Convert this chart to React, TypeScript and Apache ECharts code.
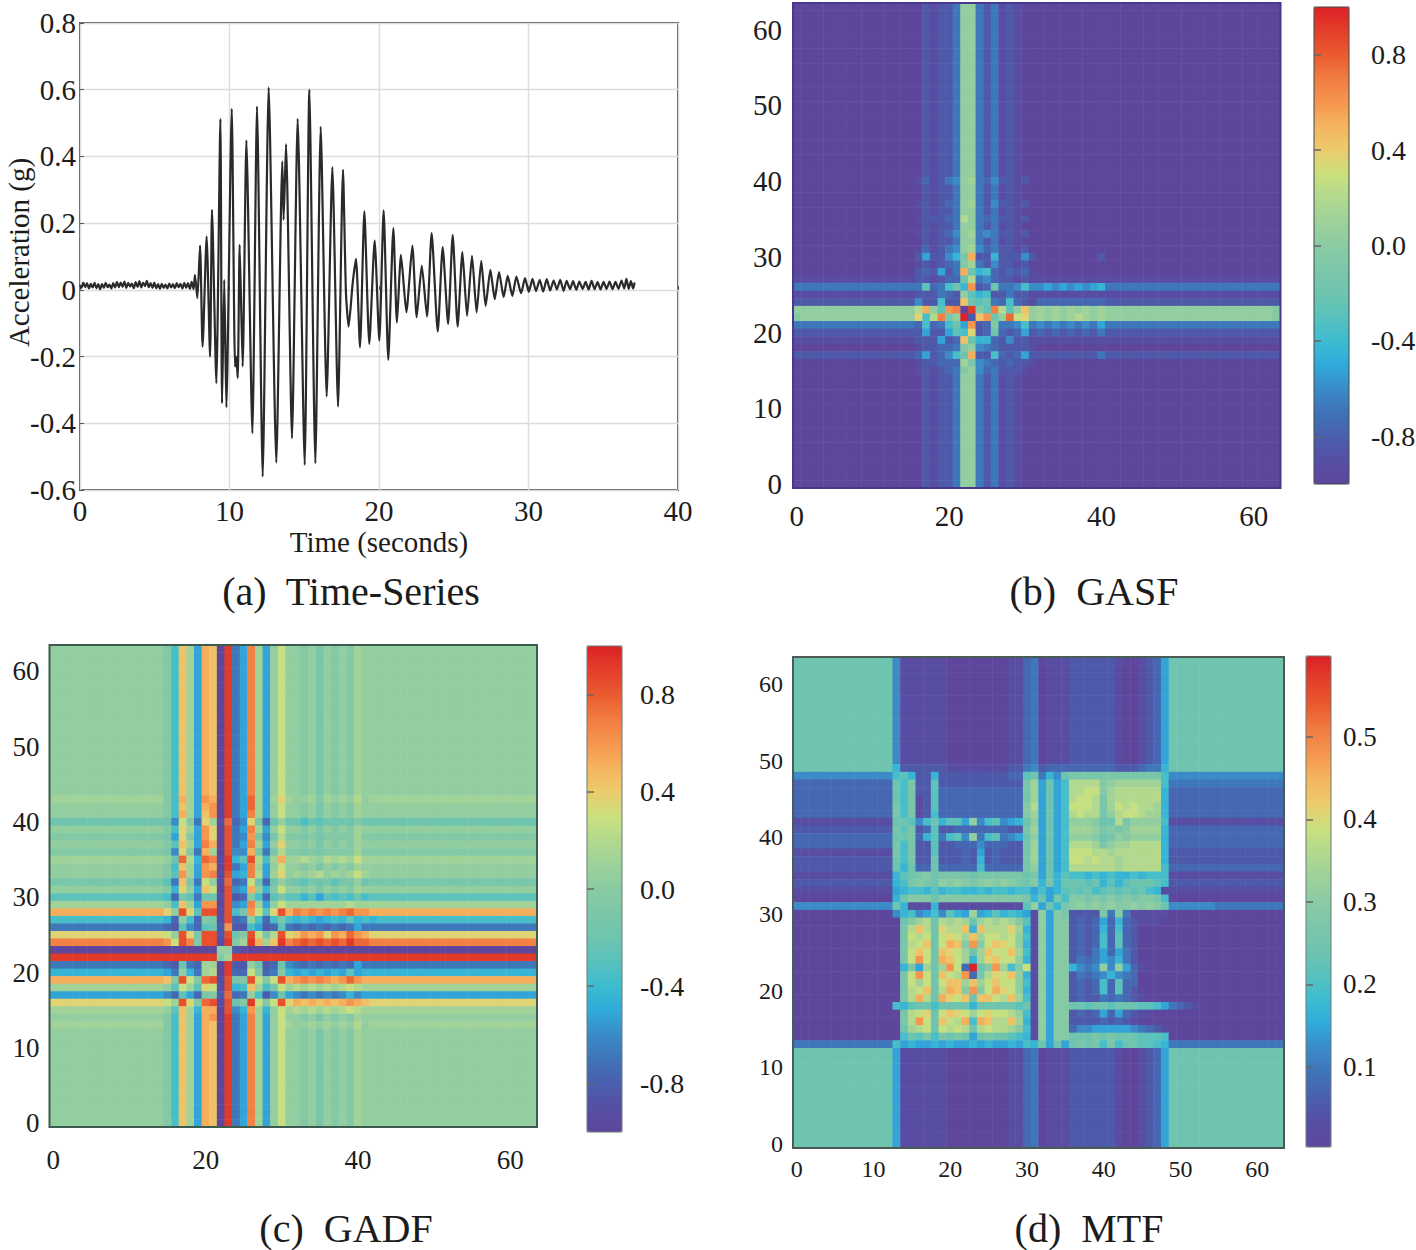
import React, { useEffect, useRef } from "react";
import * as echarts from "echarts";

const SERIF = '"Liberation Serif", "Times New Roman", serif';
const INK = "#1c1c1c";

// ---------- (a) time series as [seconds, g] ----------
const quietBefore: number[][] = [
  [0, 0.014], [0.1, 0.006], [0.22, 0.022], [0.35, 0.008], [0.47, 0.02], [0.6, 0.004], [0.72, 0.018], [0.85, 0.007], [0.97, 0.021], [1.1, 0.005],
  [1.22, 0.017], [1.35, 0.002], [1.47, 0.018], [1.6, 0.006], [1.72, 0.021], [1.85, 0.008], [1.97, 0.016], [2.1, 0.004], [2.22, 0.02], [2.35, 0.007],
  [2.47, 0.024], [2.6, 0.008], [2.72, 0.022], [2.85, 0.009], [2.97, 0.025], [3.1, 0.006], [3.22, 0.021], [3.35, 0.01], [3.47, 0.019], [3.6, 0.005],
  [3.72, 0.023], [3.85, 0.009], [3.97, 0.026], [4.1, 0.007], [4.22, 0.022], [4.35, 0.011], [4.47, 0.027], [4.6, 0.008], [4.72, 0.02], [4.85, 0.006],
  [4.97, 0.022], [5.1, 0.005], [5.22, 0.017], [5.35, 0.003], [5.47, 0.018], [5.6, 0.006], [5.72, 0.016], [5.85, 0.004], [5.97, 0.019], [6.1, 0.007],
  [6.22, 0.017], [6.35, 0.005], [6.47, 0.02], [6.6, 0.008], [6.72, 0.018], [6.85, 0.004], [6.97, 0.021], [7.1, 0.006], [7.22, 0.02], [7.35, 0.003],
  [7.47, 0.024], [7.6, 0.002],
];
const strongShaking: number[][] = [
  [7.69, 0.045], [7.85, -0.025], [8.03, 0.133], [8.2, -0.17], [8.47, 0.16], [8.7, -0.2], [8.83, 0.24], [9.12, -0.28], [9.39, 0.513], [9.5, -0.34],
  [9.65, 0.03], [9.79, -0.352], [10.15, 0.543], [10.37, -0.23], [10.45, -0.2], [10.55, -0.264], [10.68, 0.135], [10.88, -0.23], [11.13, 0.448], [11.53, -0.43],
  [11.84, 0.55], [12.22, -0.56], [12.62, 0.607], [13.13, -0.518], [13.53, 0.385], [13.62, 0.21], [13.78, 0.437], [14.18, -0.445], [14.56, 0.513], [15.03, -0.525],
  [15.34, 0.6], [15.74, -0.52], [16.1, 0.489], [16.5, -0.32], [16.88, 0.368], [17.26, -0.35], [17.59, 0.36],
];
const decay: number[][] = [
  [17.79, -0.01], [17.97, -0.11], [18.24, 0.02], [18.46, 0.093], [18.73, -0.172], [19.02, 0.235], [19.35, -0.162], [19.71, 0.148], [20.02, -0.152], [20.31, 0.238],
  [20.62, -0.21], [20.96, 0.185], [21.2, -0.098], [21.47, 0.105], [21.83, -0.067], [22.23, 0.133], [22.52, -0.082], [22.86, 0.073], [23.21, -0.08], [23.52, 0.17],
  [23.93, -0.125], [24.26, 0.128], [24.62, -0.102], [24.93, 0.165], [25.26, -0.11], [25.58, 0.113], [25.89, -0.078], [26.22, 0.102], [26.53, -0.068], [26.84, 0.087],
  [27.13, -0.048], [27.45, 0.06], [27.74, -0.028], [28.03, 0.053], [28.34, -0.022], [28.61, 0.042], [28.92, -0.018], [29.19, 0.04], [29.5, -0.01], [29.77, 0.035],
];
const quietAfter: number[][] = [
  [30.02, -0.006], [30.27, 0.033], [30.5, -0.004], [30.75, 0.03], [30.98, -0.005], [31.22, 0.032], [31.45, -0.002], [31.68, 0.028], [31.9, 0.001], [32.12, 0.03],
  [32.35, -0.003], [32.55, 0.027], [32.78, 0.002], [32.98, 0.026], [33.2, 0.0], [33.4, 0.025], [33.62, 0.003], [33.82, 0.024], [34.02, 0.001], [34.22, 0.027],
  [34.42, 0.002], [34.62, 0.023], [34.82, 0.001], [35.02, 0.024], [35.22, 0.003], [35.42, 0.025], [35.62, 0.002], [35.82, 0.024], [36.02, 0.003], [36.22, 0.028],
  [36.4, 0.004], [36.55, 0.033], [36.7, 0.003], [36.85, 0.026], [37.0, 0.004], [37.1, 0.022],
];

const timeTicks = { min: 0, max: 40, step: 10 };
const accelTicks = { min: -0.6, max: 0.8, step: 0.2 };
const unitCbTicks = [-0.8, -0.4, 0, 0.4, 0.8];
const mtfCbTicks = [0.1, 0.2, 0.3, 0.4, 0.5];
const cellIndex = Array.from({ length: 64 }, (_, i) => String(i));

// ---------- image rows, top row (63) first. Each letter is one colour level
// a..z, a trailing number repeats the letter. --------------------------------
const gA = "a16acbccennecebcbaa32";
const gasfRows = [
  gA, gA, gA, gA, gA, gA, gA, gA, gA, gA, gA, gA, gA, gA, gA, gA, gA, gA, gA, gA, gA, gA, gA,
  "a16bdbcefnoedfccbca32", gA, gA,
  "a16bcbcdenoecfccbca32", gA,
  "a16bcccdepnedeccbca32", gA,
  "a16bcbcdfnoefeccbca32", gA,
  "a16bdbcefnofdeccbca32",
  "a16cgccfhltcchcccfca8ca23",
  "a16bcbcdemoecfccbca32",
  "a16cdcgcetkhidcdcdba32",
  "b16ccbcddkpefdccbcbb32",
  "e16ejdeikhucdkeefiffgfgfgfghe23",
  "b16cccedcnjhicceccbb32",
  "c16fcciccskjkedidcbd9c23",
  "n16ptnjuvaymjvpjnsnononononon22m",
  "mn15ripvlnzcsuknwqrnononoponon22m",
  "e16dideikgucdmeefiefefefefege23",
  "c16cgccgjircdkdcdgcdcdcdcdcec23",
  "b16cccgcdskhhdcfccbb32",
  "a16bccddemnfedccccba32",
  "c16dgcdfiktccidcdgcc8ec23",
  "a16bccdddolfedcdccba32",
  "a16bcbcdemnfdecccbaa32",
  gA, gA, gA, gA, gA, gA, gA, gA, gA, gA, gA, gA, gA, gA, gA,
];

const softTail = "nnmnlnmnmonn";
const dV = `n15misogtsayegvognq${softTail}n21`;
const gadfRows = [
  dV, dV, dV, dV, dV, dV, dV, dV, dV, dV, dV, dV, dV, dV, dV, dV, dV, dV, dV, dV,
  "o15mitogutayegwogoronnomononpnoo21",
  `n15misogtuayegwognq${softTail}n21`,
  `n15mitogsuayegvognq${softTail}n21`,
  "k15kfqmerobwdfrldknkkikjkkkkmkkk21",
  `n15miroguraxegvognq${softTail}n21`,
  "m15lgrmguraxefulflpmmlmlmmmmommm21",
  `n15mjsogvtaxegvognr${softTail}n21`,
  "m15lfrmetoaxfftlelpmmlmlmmmmommm21",
  "o15nkwphwvbyhjxpiotooponpopoqooo21",
  `n15misogutayegvognq${softTail}n21`,
  "n15mjuoguvbxghvpgornonopnonoqonn21",
  "l15jesleqnbwdeqkdknlkjlkljllnkll21",
  `n15mhrngsqaxfgtnhmq${softTail}n21`,
  "j15idljekkbxcdmidjljjhjgjijikijj21",
  "o15nisoguuaxfgvognqoooooooopoooo21",
  "t15rnxrjxxbxiluqjrxtvuvuvuvwuutt21",
  "i15hdnidmlbxdenidilihihghihjhihi21",
  "e15dcjfdjkcuccigcdjededededegeee21",
  "r15qnxrlxxcxkmxqlpxrsuturutwutrr21",
  "v15uqxvmxxbymoytosyvwxwxwxwywwvv21",
  "a15abaaaaanncbaaaaaa12a21",
  "y15yyyyyyymoyyyyyyyy12y21",
  "e15dckedooayccnkcdkfededededgeee21",
  "h15genheopayddqmdemhghghghgjghhh21",
  "t15smxqmwxbxlmxqmqxtuvuvutuwuttt21",
  "o15njqojrqbxhisoilqopopopopqpooo21",
  "g15fdjgdlmcwdenicfkgfefefefhfggg21",
  "r15qoxrmwxbxkmyqmqxrtstststutsrr21",
  "o15njsohttaxfhuohnqopopopopqpooo21",
  `n15misogtuayegvognq${softTail}n21`,
  "o15misogtsayegvognqonnonononpnoo21",
  dV, dV, dV, dV, dV, dV, dV, dV, dV, dV, dV, dV, dV,
];

const mT = "k13fb6a8b2deab3cccc3baabcdgk15";
const mB = "k13gb6a8b2deab3cccc3baabcdgk15";
const mtfRows = [
  mT, mT, mT, mT, mT, mT, mT, mT, mT, mT, mT, mT, mT, mT,
  "k13hc6b8c2efcd3dddd3c3deehk15",
  "f13ijhcchc5c4d2jkehfkl12if15",
  "d13kilccjc11logkgip4mno6ie15",
  "d13kilccjd11logkgip2q2mop6hd15",
  "d13kilbcjd11logkgipqqplop6hd15",
  "d13lilbcjd11mpgkgiqqqploqpqppohd15",
  "d13lilbcid11mogkgipqpplnpqqpoohd15",
  "b13kkjfikhjjgnfijfghkngkgin3mkkpln4ib15",
  "c13ljlcdjccd7cclogkgio3nlmlmo4hd15",
  "d13kkldhjeijfneijefgkngkgin3mklnmn4hd15",
  "d13lilccjccd3fd3cclogkgip3olnoop4hd15",
  "b13lilccjcccdcgcdccclogkgiq3ppop6hc15",
  "c13kilcckcccdchcdccclogkgiqqpqppop5hc15",
  "c13khkddkd5id5lngkgip4ppop5id15",
  "b13hjklmkl4kl6klgkhjiihihihhihiiib15",
  "c13hilmlknmnmlmnmnmlkmhlhkkkjkhjhjkkkjic15",
  "b13ghiihjhiihhihiihiigighjkjkijkjkjkihb15",
  "a13hkmmmkm11lhkglimmlmlmlmlmmlia15",
  "f13khbbbhb11jngkhlmnmnmnmmnmnmkf6e9",
  "a13fhifgifjhgoghjhihgbngmlc4lemeb5a15",
  "a14kmopkpopokopopomjbngmmcdcdgdhdcbbba15",
  "a14lpspkrppshsppprohbngmmcdcdhdidcaaaaa15",
  "a14lqpqkqrqosoqqpqnibngmmcdcdidjdcaaaaa15",
  "a14lpqskqtsmumqsrqnhbngmmcdcdidjdcaaaaa15",
  "a14lqsqksrqokosqqsoibngmmcdcegdgecaaaaa15",
  "a14lquqktsqohorsqqnhbngmmcedegfhecaaaaa15",
  "a14hlgokouqdzkmuoimqbngmmhfefnfngdbaaaa15",
  "a14lquqksqpudlprqsnhbngmmcedefhfedaaaaa15",
  "a14lqoqkqssosoqsqqnibngmmcdcdidjddaaaaa15",
  "a14lpqskptsmumqtrqnhbngmmcdcdidjdcaaaaa15",
  "a14lptpktrqskssqpsoibngmmcdccededcbaaa15",
  "a13ihjkkikkkkhkkkkkjkbngmmkkjkkjkkkjjigedcba11",
  "a14lpqrkqsrqoqrqqpnibngmmcdcdgdgdcbbaaa15",
  "a14lpuqksqptitsppsohbngmmccccdcdcbaaaaa15",
  "a14kopqkqpqpkpqppomibngmmdffgggggfedcba15",
  "a14ikjlilklkgklkkjihbngmmkkklklkkkjjjia15",
  "e13ighgghghgghghgghgihkgkgklklilikkjjihe15",
  mB, mB, mB, mB, mB, mB, mB, mB, mB, mB, mB, mB, mB,
];

const unitLevels = { low: -1, high: 1 };
const mtfLevels = { low: 0.003, high: 0.598 };

const spectrum = [
  "#5e469d", "#564fa4", "#4a5fad", "#3f73b8", "#3a8bc7", "#30aadb", "#3dbcd0", "#58c1bd", "#6fc4af", "#7cc7a9", "#8acba3",
  "#9dd29a", "#b2d98e", "#cbe07e", "#eccb6c", "#f5b45f", "#f5964f", "#f17c42", "#ea5a2f", "#e43f2a", "#dc2026",
];

function expandRow(row: string): string {
  let out = "";
  row.replace(/([a-z])(\d*)/g, (_m, ch: string, n: string) => {
    out += ch.repeat(n ? parseInt(n, 10) : 1);
    return "";
  });
  const last = out[out.length - 1] || "a";
  return out.length >= 64 ? out.slice(0, 64) : out + last.repeat(64 - out.length);
}

function cells(rows: string[], lv: { low: number; high: number }) {
  const data: number[][] = [];
  rows.forEach((row, i) => {
    const e = expandRow(row);
    for (let c = 0; c < 64; c++) {
      const k = e.charCodeAt(c) - 97;
      data.push([c, 63 - i, +(lv.low + ((lv.high - lv.low) * k) / 25).toFixed(3)]);
    }
  });
  return data;
}

function buildOption() {
  const heatBoxes = [
    { left: 793, top: 3, width: 487.5, height: 485, fs: 29, xEvery: 19, xMargin: 13, yMargin: 11, frame: "#47378f" },
    { left: 49.5, top: 645, width: 487.5, height: 482, fs: 27, xEvery: 19, xMargin: 19, yMargin: 10, frame: "#3c5a50" },
    { left: 793, top: 657, width: 491, height: 491, fs: 24, xEvery: 9, xMargin: 9, yMargin: 10, frame: "#4a5a55" },
  ];
  const bars = [
    { left: 1314, top: 7, width: 35, height: 477, min: unitLevels.low, max: unitLevels.high, ticks: unitCbTicks, fs: 28, margin: 22, edge: "#3c4a48" },
    { left: 587, top: 646, width: 35, height: 486, min: unitLevels.low, max: unitLevels.high, ticks: unitCbTicks, fs: 28, margin: 18, edge: "#6a7a76" },
    { left: 1306, top: 656, width: 25, height: 491, min: mtfLevels.low, max: mtfLevels.high, ticks: mtfCbTicks, fs: 27, margin: 12, edge: "#6a7a76" },
  ];

  const flat = { outerBoundsMode: "none" };
  const grid: any[] = [
    { ...flat, left: 80, top: 23, width: 598, height: 467, show: true, borderColor: "#555", borderWidth: 2, backgroundColor: "#fff" },
    ...heatBoxes.map((b) => ({ ...flat, left: b.left, top: b.top, width: b.width, height: b.height, show: true, borderColor: b.frame, borderWidth: 2, z: 5, backgroundColor: "transparent" })),
    ...bars.map((b) => ({ ...flat, left: b.left, top: b.top, width: b.width, height: b.height, show: true, borderColor: b.edge, borderWidth: 1, z: 6, backgroundColor: "transparent" })),
  ];

  const xAxis: any[] = [
    {
      gridIndex: 0, type: "value", min: timeTicks.min, max: timeTicks.max, interval: timeTicks.step,
      name: "Time (seconds)", nameLocation: "middle", nameGap: 37,
      nameTextStyle: { fontFamily: SERIF, fontSize: 29, color: INK },
      axisLine: { show: false }, axisTick: { inside: true, length: 4, lineStyle: { color: "#555" } },
      axisLabel: { fontFamily: SERIF, fontSize: 29, color: INK, margin: 6 },
      splitLine: { show: true, lineStyle: { color: "#dcdcdc", width: 1.4 } },
    },
    ...heatBoxes.map((b, i) => ({
      gridIndex: i + 1, type: "category", data: cellIndex, boundaryGap: true,
      axisLine: { show: false },
      axisTick: { alignWithLabel: true, interval: b.xEvery, length: 4, lineStyle: { color: "#444" } },
      axisLabel: { interval: b.xEvery, fontFamily: SERIF, fontSize: b.fs, color: INK, margin: b.xMargin },
      splitLine: { show: false },
    })),
    ...bars.map((_b, i) => ({ gridIndex: i + 4, type: "value", min: 0, max: 1, show: false })),
  ];

  const yAxis: any[] = [
    {
      gridIndex: 0, type: "value", min: accelTicks.min, max: accelTicks.max, interval: accelTicks.step,
      name: "Acceleration (g)", nameLocation: "middle", nameGap: 47, nameMoveOverlap: false,
      nameTextStyle: { fontFamily: SERIF, fontSize: 29, color: INK, padding: [0, 0, 0, 8] },
      axisLine: { show: false }, axisTick: { inside: true, length: 4, lineStyle: { color: "#555" } },
      axisLabel: { fontFamily: SERIF, fontSize: 29, color: INK, margin: 4 },
      splitLine: { show: true, lineStyle: { color: "#dcdcdc", width: 1.4 } },
    },
    ...heatBoxes.map((b, i) => ({
      gridIndex: i + 1, type: "category", data: cellIndex, boundaryGap: true,
      axisLine: { show: false },
      axisTick: { alignWithLabel: true, interval: 9, length: 4, lineStyle: { color: "#444" } },
      axisLabel: { interval: 9, fontFamily: SERIF, fontSize: b.fs, color: INK, margin: b.yMargin },
      splitLine: { show: false },
    })),
    ...bars.map((b, i) => ({
      gridIndex: i + 4, type: "value", position: "right", min: b.min, max: b.max, z: 7,
      axisLine: { show: false },
      axisTick: { show: true, length: 7, customValues: b.ticks, lineStyle: { color: "#666", width: 1.5 } },
      axisLabel: { customValues: b.ticks, fontFamily: SERIF, fontSize: b.fs, color: INK, margin: b.margin, formatter: (v: number) => v.toFixed(1) },
      splitLine: { show: false },
    })),
  ];

  const heatRows = [gasfRows, gadfRows, mtfRows];
  const heatLevels = [unitLevels, unitLevels, mtfLevels];
  const series: any[] = [
    {
      type: "line", xAxisIndex: 0, yAxisIndex: 0, showSymbol: false, symbol: "none", silent: true, smooth: 0.2,
      lineStyle: { color: "#2a2a2a", width: 2.2 }, z: 3,
      data: [...quietBefore, ...strongShaking, ...decay, ...quietAfter],
    },
    ...heatRows.map((rows, i) => ({
      type: "heatmap", xAxisIndex: i + 1, yAxisIndex: i + 1, silent: true, progressive: 0,
      data: cells(rows, heatLevels[i]), itemStyle: { borderWidth: 0 }, emphasis: { disabled: true },
    })),
  ];

  const visualMap = bars.map((b, i) => ({
    type: "continuous", seriesIndex: i + 1, dimension: 2, min: b.min, max: b.max,
    left: b.left, top: b.top, itemWidth: b.width, itemHeight: b.height, padding: 0,
    text: undefined, calculable: false, realtime: false, hoverLink: false, orient: "vertical",
    inRange: { color: spectrum },
  }));

  const caption = (text: string, x: number, y: number) => ({
    type: "text", x, y, silent: true,
    style: { text, font: `40px ${SERIF}`, fill: INK, textAlign: "center", textVerticalAlign: "middle" },
  });

  return {
    animation: false,
    backgroundColor: "#ffffff",
    grid, xAxis, yAxis, series, visualMap,
    graphic: {
      elements: [
        caption("(a)  Time-Series", 351, 591),
        caption("(b)  GASF", 1094, 591),
        caption("(c)  GADF", 346, 1228),
        caption("(d)  MTF", 1089, 1228),
      ],
    },
  };
}

export default function App() {
  const ref = useRef<HTMLDivElement | null>(null);
  useEffect(() => {
    document.body.style.margin = "0";
    const chart = echarts.init(ref.current as HTMLDivElement, undefined, { renderer: "svg" });
    chart.setOption(buildOption() as any);
    return () => chart.dispose();
  }, []);
  return <div ref={ref} style={{ width: 1416, height: 1250 }} />;
}
